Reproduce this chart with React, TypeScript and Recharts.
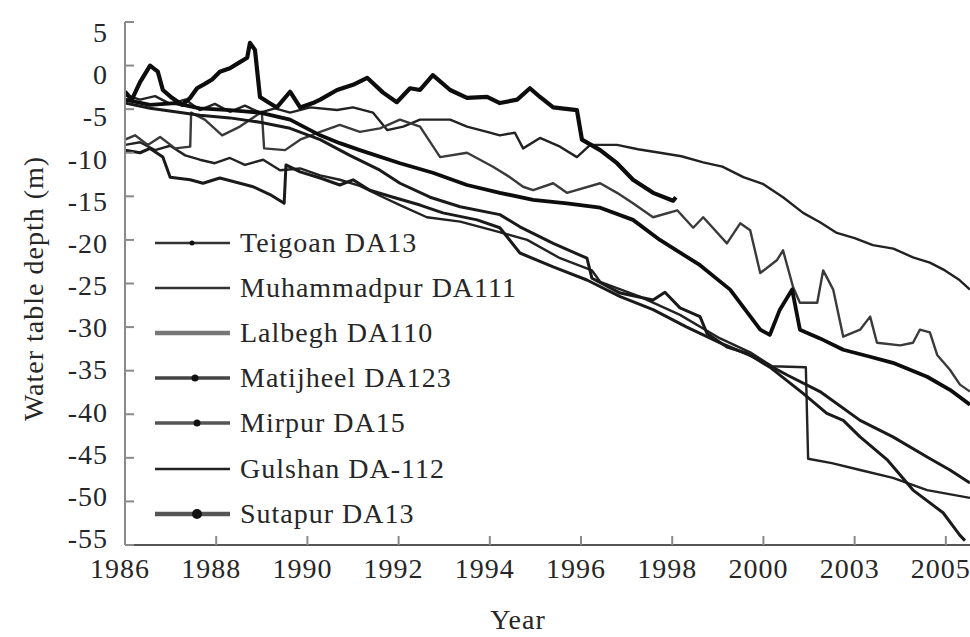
import React from 'react';
import { LineChart, Line, XAxis, YAxis, Label } from 'recharts';

// x ticks sit every two years; the printed labels jump 2000 -> 2003 -> 2005 as in the source figure
const YEAR_TICKS = [1986, 1988, 1990, 1992, 1994, 1996, 1998, 2000, 2002, 2004];
const YEAR_LABELS = ['1986', '1988', '1990', '1992', '1994', '1996', '1998', '2000', '2003', '2005'];
const DEPTH_TICKS = [5, 0, -5, -10, -15, -20, -25, -30, -35, -40, -45, -50, -55];

// [year, water table depth (m)]
const teigoan: [number, number][] = [
  [1986.0, -3.4], [1986.33, -3.9], [1986.66, -3.5], [1986.99, -4.4], [1987.32, -3.9], [1987.64, -5.1],
  [1987.97, -4.4], [1988.3, -5.3], [1988.63, -4.6], [1988.96, -5.4], [1989.29, -4.9], [1989.62, -5.4],
  [1990.06, -4.8], [1990.65, -5.1], [1991.0, -4.8], [1991.44, -5.4], [1991.75, -7.4], [1992.1, -7.0],
  [1992.47, -6.2], [1993.13, -6.2], [1993.5, -7.0], [1993.94, -7.6], [1994.22, -8.0], [1994.55, -7.7],
  [1994.73, -9.5], [1995.1, -8.3], [1995.54, -9.3], [1995.91, -10.5], [1996.2, -9.1], [1996.79, -9.1],
  [1997.25, -9.6], [1997.73, -10.0], [1998.2, -10.4], [1998.68, -11.1], [1999.1, -11.6], [1999.56, -12.8],
  [2000.0, -13.6], [2000.43, -15.1], [2000.87, -16.9], [2001.25, -18.0], [2001.61, -19.2], [2002.0, -19.8],
  [2002.4, -20.6], [2002.85, -21.0], [2003.28, -22.0], [2003.65, -22.6], [2003.98, -23.5], [2004.3, -24.6],
  [2004.53, -25.7],
];

const muhammadpur: [number, number][] = [
  [1986.0, -9.1], [1986.33, -8.8], [1986.66, -9.7], [1986.99, -9.2], [1987.32, -10.3], [1987.64, -10.8],
  [1987.97, -11.2], [1988.3, -10.6], [1988.63, -11.4], [1989.03, -10.8], [1989.4, -12.0], [1989.84, -11.8],
  [1990.28, -12.6], [1990.71, -13.1], [1991.15, -13.8], [1991.66, -15.1], [1992.03, -16.0], [1992.62, -17.4],
  [1993.35, -17.9], [1994.07, -18.9], [1994.82, -20.0], [1995.54, -22.1], [1996.24, -23.5], [1996.42, -24.8],
  [1997.29, -26.5], [1998.17, -28.6], [1999.05, -31.3], [1999.71, -32.9], [2000.19, -34.5], [2000.93, -34.6],
  [2000.98, -45.1], [2001.5, -45.6], [2002.12, -46.4], [2002.84, -47.3], [2003.59, -48.7], [2004.53, -49.6],
];

const lalbegh: [number, number][] = [
  [1986.0, -8.5], [1986.22, -8.0], [1986.5, -9.1], [1986.77, -8.2], [1987.1, -9.5], [1987.43, -9.3],
  [1987.45, -5.4], [1987.75, -6.2], [1988.13, -8.0], [1988.52, -7.0], [1989.0, -5.3], [1989.05, -9.5],
  [1989.51, -9.7], [1989.84, -8.5], [1990.28, -7.6], [1990.71, -6.8], [1991.15, -7.6], [1991.59, -7.2],
  [1992.03, -6.2], [1992.47, -7.0], [1992.91, -10.5], [1993.5, -10.0], [1994.07, -11.6], [1994.44, -12.8],
  [1994.73, -13.9], [1994.95, -14.3], [1995.39, -13.5], [1995.69, -14.6], [1996.42, -13.5], [1996.79, -14.6],
  [1997.14, -15.8], [1997.58, -17.4], [1998.11, -16.6], [1998.46, -18.6], [1998.68, -17.4], [1999.2, -20.4],
  [1999.49, -18.1], [1999.71, -18.9], [1999.93, -23.8], [2000.3, -22.3], [2000.43, -21.2], [2000.65, -25.4],
  [2000.8, -27.2], [2001.18, -27.2], [2001.31, -23.5], [2001.53, -25.7], [2001.75, -31.1], [2002.12, -30.3],
  [2002.34, -28.8], [2002.49, -31.8], [2003.0, -32.1], [2003.28, -31.8], [2003.43, -30.3], [2003.65, -30.6],
  [2003.81, -33.2], [2004.09, -34.9], [2004.31, -36.6], [2004.53, -37.4],
];

const matijheel: [number, number][] = [
  [1986.0, -9.7], [1986.33, -10.0], [1986.55, -9.5], [1986.83, -10.5], [1986.99, -12.8], [1987.43, -13.1],
  [1987.71, -13.5], [1988.08, -12.9], [1988.52, -13.5], [1988.81, -13.9], [1989.18, -14.8], [1989.49, -15.8],
  [1989.53, -11.4], [1989.84, -12.2], [1990.28, -12.9], [1990.71, -13.7], [1991.0, -13.1], [1991.37, -14.3],
  [1991.88, -15.1], [1992.47, -16.0], [1992.97, -16.9], [1993.72, -17.7], [1994.22, -18.6], [1994.66, -21.5],
  [1995.39, -23.1], [1996.13, -24.6], [1996.86, -26.5], [1997.58, -28.0], [1998.32, -30.0], [1999.05, -31.8],
  [1999.77, -33.4], [2000.52, -35.5], [2001.24, -37.4], [2002.12, -40.7], [2002.84, -42.6], [2003.59, -44.9],
  [2004.09, -46.4], [2004.53, -47.9],
];

const mirpur: [number, number][] = [
  [1986.0, -3.9], [1986.55, -4.5], [1987.1, -4.3], [1987.64, -4.9], [1988.3, -5.1], [1988.96, -5.4],
  [1989.62, -6.2], [1990.28, -8.0], [1990.71, -8.9], [1991.15, -9.7], [1992.03, -11.2], [1992.75, -12.3],
  [1993.5, -13.7], [1994.22, -14.6], [1994.95, -15.4], [1995.69, -15.8], [1996.42, -16.3], [1997.14, -17.7],
  [1997.73, -20.0], [1998.61, -22.9], [1999.27, -25.7], [1999.93, -30.3], [2000.14, -30.9], [2000.36, -28.0],
  [2000.63, -25.7], [2000.8, -30.3], [2001.24, -31.3], [2001.75, -32.6], [2002.34, -33.4], [2002.84, -34.1],
  [2003.59, -35.7], [2004.09, -37.2], [2004.53, -38.9],
];

const gulshan: [number, number][] = [
  [1986.0, -4.3], [1986.55, -4.9], [1987.1, -5.3], [1987.64, -5.7], [1988.3, -6.0], [1988.96, -6.5],
  [1989.62, -7.2], [1990.28, -8.5], [1990.93, -10.3], [1991.59, -12.0], [1992.03, -13.5], [1992.69, -15.1],
  [1993.35, -16.2], [1994.22, -17.1], [1994.66, -18.5], [1995.39, -20.4], [1996.13, -22.1], [1996.24, -24.4],
  [1996.86, -26.1], [1997.58, -26.9], [1997.84, -26.0], [1998.17, -27.8], [1998.61, -28.8], [1998.76, -30.7],
  [1999.2, -32.3], [1999.64, -33.0], [2000.14, -34.6], [2000.87, -37.6], [2001.39, -39.9], [2001.75, -40.7],
  [2002.12, -42.6], [2002.71, -45.2], [2003.28, -48.7], [2003.94, -51.3], [2004.31, -53.9], [2004.42, -54.5],
];

const sutapur: [number, number][] = [
  [1986.0, -3.0], [1986.15, -3.9], [1986.33, -1.9], [1986.55, 0.0], [1986.72, -0.7], [1986.83, -2.8],
  [1987.03, -3.7], [1987.25, -4.5], [1987.43, -3.7], [1987.58, -2.6], [1987.75, -2.1], [1987.91, -1.6],
  [1988.08, -0.7], [1988.3, -0.3], [1988.52, 0.4], [1988.68, 0.9], [1988.74, 2.6], [1988.85, 1.8],
  [1988.96, -3.6], [1989.14, -4.2], [1989.33, -4.8], [1989.62, -3.0], [1989.84, -4.8], [1990.12, -4.3],
  [1990.28, -3.9], [1990.65, -2.8], [1991.0, -2.2], [1991.31, -1.4], [1991.66, -3.1], [1991.96, -4.2],
  [1992.25, -2.6], [1992.47, -2.8], [1992.75, -1.1], [1993.13, -2.8], [1993.5, -3.7], [1993.94, -3.6],
  [1994.22, -4.3], [1994.6, -3.9], [1994.88, -2.6], [1995.1, -3.6], [1995.39, -4.8], [1995.91, -5.1],
  [1996.02, -8.5], [1996.42, -9.7], [1996.79, -11.2], [1997.14, -13.1], [1997.58, -14.6], [1998.02, -15.5],
  [1998.08, -15.1],
];

interface SeriesDef {
  name: string;
  points: [number, number][];
  stroke: string;
  width: number;
  legendStroke: string;
  legendWidth: number;
  dotR: number;
  dotX: number;
}

// legend order
const SERIES: SeriesDef[] = [
  { name: 'Teigoan DA13', points: teigoan, stroke: '#222', width: 2.4, legendStroke: '#333', legendWidth: 2.5, dotR: 2.5, dotX: 37 },
  { name: 'Muhammadpur DA111', points: muhammadpur, stroke: '#222', width: 2.4, legendStroke: '#333', legendWidth: 2.5, dotR: 0, dotX: 0 },
  { name: 'Lalbegh DA110', points: lalbegh, stroke: '#3a3a3a', width: 2.4, legendStroke: '#777', legendWidth: 4.5, dotR: 0, dotX: 0 },
  { name: 'Matijheel DA123', points: matijheel, stroke: '#1a1a1a', width: 3, legendStroke: '#444', legendWidth: 3.5, dotR: 3.5, dotX: 40 },
  { name: 'Mirpur DA15', points: mirpur, stroke: '#0d0d0d', width: 3.8, legendStroke: '#555', legendWidth: 3.5, dotR: 3.5, dotX: 42 },
  { name: 'Gulshan DA-112', points: gulshan, stroke: '#1a1a1a', width: 3, legendStroke: '#222', legendWidth: 2.5, dotR: 0, dotX: 0 },
  { name: 'Sutapur DA13', points: sutapur, stroke: '#0d0d0d', width: 4.2, legendStroke: '#555', legendWidth: 4.5, dotR: 5, dotX: 42 },
];

// thin lines underneath, heavy ones on top
const DRAW_ORDER = ['Teigoan DA13', 'Muhammadpur DA111', 'Lalbegh DA110', 'Matijheel DA123', 'Gulshan DA-112', 'Mirpur DA15', 'Sutapur DA13'];

const FONT = '"Liberation Serif", "DejaVu Serif", "Noto Serif", Times, serif';
const TEXT = '#262626';

// tick labels drift slightly from the tick marks in the source; pull them toward the middle
const YTick = ({ x, y, payload, index }: any) => (
  <g>
    <line x1={x + 17} x2={x + 26} y1={y} y2={y} stroke="#8a8a8a" strokeWidth={2} />
    <text x={x} y={y} dy={20 - 1.4 * index} textAnchor="end" fontFamily={FONT} fontSize={28} letterSpacing={1} fill={TEXT}>
      {payload.value}
    </text>
  </g>
);

const XTick = ({ x, y, payload, index }: any) => (
  <g>
    <line x1={x} x2={x} y1={y} y2={y - 9} stroke="#8a8a8a" strokeWidth={2} />
    <text x={x} y={y} dx={-5} dy={33} textAnchor="middle" fontFamily={FONT} fontSize={28} letterSpacing={1} fill={TEXT}>
      {YEAR_LABELS[index] ?? payload.value}
    </text>
  </g>
);

const YTitle = ({ viewBox }: any) => {
  const x = viewBox.x + 43;
  const y = viewBox.y + viewBox.height / 2 + 5;
  return (
    <text x={x} y={y} transform={`rotate(-90 ${x} ${y})`} textAnchor="middle" fontFamily={FONT} fontSize={28} letterSpacing={1} fill={TEXT}>
      Water table depth (m)
    </text>
  );
};

const XTitle = ({ viewBox }: any) => (
  <text x={viewBox.x + 393} y={viewBox.y + 84} textAnchor="middle" fontFamily={FONT} fontSize={28} letterSpacing={1} fill={TEXT}>
    Year
  </text>
);

export default function App() {
  const byName = Object.fromEntries(SERIES.map(s => [s.name, s]));
  return (
    <div style={{ position: 'absolute', left: 0, top: 0, width: 970, height: 637, background: '#fff', fontFamily: FONT }}>
      <LineChart width={970} height={637} margin={{ top: 22, right: 0, bottom: 0, left: 0 }}>
        <XAxis
          type="number"
          dataKey="t"
          domain={[1986, 2004.53]}
          ticks={YEAR_TICKS}
          allowDataOverflow
          height={92}
          tickSize={0}
          tickMargin={0}
          tickLine={false}
          tick={<XTick />}
          axisLine={{ stroke: '#555', strokeWidth: 2 }}
          interval={0}
        >
          <Label content={<XTitle />} />
        </XAxis>
        <YAxis
          type="number"
          dataKey="d"
          domain={[-55, 5]}
          ticks={DEPTH_TICKS}
          allowDataOverflow
          width={125}
          tickSize={0}
          tickMargin={17}
          tickLine={false}
          tick={<YTick />}
          axisLine={{ stroke: '#8a8a8a', strokeWidth: 2 }}
          interval={0}
        >
          <Label content={<YTitle />} />
        </YAxis>
        {DRAW_ORDER.map(name => {
          const s = byName[name];
          return (
            <Line
              key={name}
              name={name}
              data={s.points.map(([t, d]) => ({ t, d }))}
              dataKey="d"
              type="linear"
              stroke={s.stroke}
              strokeWidth={s.width}
              strokeLinejoin="round"
              dot={false}
              activeDot={false}
              isAnimationActive={false}
            />
          );
        })}
      </LineChart>

      {/* legend sits inside the plot, lower left */}
      <div style={{ position: 'absolute', left: 155, top: 220 }}>
        {SERIES.map(s => (
          <div key={s.name} style={{ display: 'flex', alignItems: 'center', height: 45.2 }}>
            <svg width={85} height={20} style={{ display: 'block' }}>
              <line x1={0} x2={75} y1={10} y2={10} stroke={s.legendStroke} strokeWidth={s.legendWidth} />
              {s.dotR > 0 && <circle cx={s.dotX} cy={10} r={s.dotR} fill="#111" />}
            </svg>
            <span style={{ fontFamily: FONT, fontSize: 28, letterSpacing: 1, color: TEXT, lineHeight: 1, whiteSpace: 'nowrap' }}>
              {s.name}
            </span>
          </div>
        ))}
      </div>
    </div>
  );
}
